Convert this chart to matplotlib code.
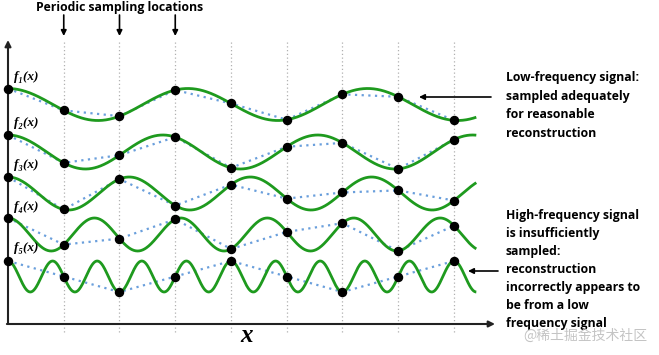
import numpy as np
import matplotlib
matplotlib.use("Agg")
import matplotlib.pyplot as plt

# signals: cos waves sampled at integer positions (x in sample spacings, y in picture rows)
names = ["f₁(x)", "f₂(x)", "f₃(x)", "f₄(x)", "f₅(x)"]
freqs = [0.31, 0.36, 0.46, 0.645, 1.25]      # cycles per sample spacing
centers = [104.5, 152, 193.5, 234.5, 276.5]
amps = [16, 17, 16.5, 16.5, 15.5]
label_rows = [77, 123, 165, 207, 248]
sample_idx = np.arange(9)
x_end = 8.4

low_lines = ["Low-frequency signal:", "sampled adequately", "for reasonable",
             "reconstruction"]
high_lines = ["High-frequency signal", "is insufficiently", "sampled:",
              "reconstruction", "incorrectly appears to", "be from a low",
              "frequency signal"]

SP = 55.75   # pixels per sample spacing
X0 = 8       # pixel column of the y axis


def px(col):
    return (col - X0) / SP


green = "#1e9a1e"
blue = "#6a9fdc"
sans = "Open Sans"

fig = plt.figure(figsize=(6.59, 3.55), dpi=100)
ax = fig.add_axes([0, 0, 1, 1])
ax.set_xlim(px(0), px(659))
ax.set_ylim(355, 0)
ax.axis("off")

# sampling grid
for k in sample_idx[1:]:
    ax.plot([k, k], [42, 333], color="#b0b0b0", lw=0.9, ls=(0, (1, 2)), zorder=1)

xs = np.linspace(0, x_end, 800)
for f, c, a, name, row in zip(freqs, centers, amps, names, label_rows):
    ys = c - a * np.cos(2 * np.pi * f * xs)
    ax.plot(xs, ys, color=green, lw=2.0, zorder=3, solid_capstyle="butt")
    ys_s = c - a * np.cos(2 * np.pi * f * sample_idx)
    ax.plot(sample_idx, ys_s, color=blue, lw=1.6, ls=(0, (1, 2)), zorder=2)
    ax.plot(sample_idx, ys_s, "o", color="black", ms=5.8, zorder=4)
    ax.text(px(14), row, name, fontsize=9.5, family="Liberation Serif",
            style="italic", weight="bold", va="center", ha="left")

# axes with arrows
ax.annotate("", xy=(0, 40), xytext=(0, 323),
            arrowprops=dict(arrowstyle="-|>", color="#222222", lw=1.5,
                            mutation_scale=9, shrinkA=0, shrinkB=0))
ax.annotate("", xy=(px(495), 324), xytext=(-0.02, 324),
            arrowprops=dict(arrowstyle="-|>", color="#222222", lw=1.5,
                            mutation_scale=9, shrinkA=0, shrinkB=0))
ax.text(px(247), 336, "x", fontsize=18, family="Liberation Serif", style="italic",
        weight="bold", ha="center", va="center")

# top annotation
ax.text(px(120), 7, "Periodic sampling locations", fontsize=8.8, weight="bold",
        family=sans, ha="center", va="center")
for k in [1, 2, 3]:
    ax.annotate("", xy=(k, 36), xytext=(k, 15),
                arrowprops=dict(arrowstyle="-|>", color="black", lw=1.2,
                                mutation_scale=8, shrinkA=0, shrinkB=0))

# right annotations
for i, line in enumerate(low_lines):
    ax.text(px(506), 78 + i * 18.5, line, fontsize=8.8, weight="bold",
            family=sans, ha="left", va="center")
ax.annotate("", xy=(px(419), 97), xytext=(px(491), 97),
            arrowprops=dict(arrowstyle="-|>", color="black", lw=1.2,
                            mutation_scale=8, shrinkA=0, shrinkB=0))
for i, line in enumerate(high_lines):
    ax.text(px(506), 215 + i * 18.1, line, fontsize=8.8, weight="bold",
            family=sans, ha="left", va="center")
ax.annotate("", xy=(px(468), 271), xytext=(px(498), 271),
            arrowprops=dict(arrowstyle="-|>", color="black", lw=1.2,
                            mutation_scale=8, shrinkA=0, shrinkB=0))

ax.text(px(647), 336, "@稀土掘金技术社区", fontsize=10, color="#c4c4c4",
        family=["Noto Sans CJK SC", "DejaVu Sans"], ha="right", va="center")

fig.savefig("out.png", dpi=100)
